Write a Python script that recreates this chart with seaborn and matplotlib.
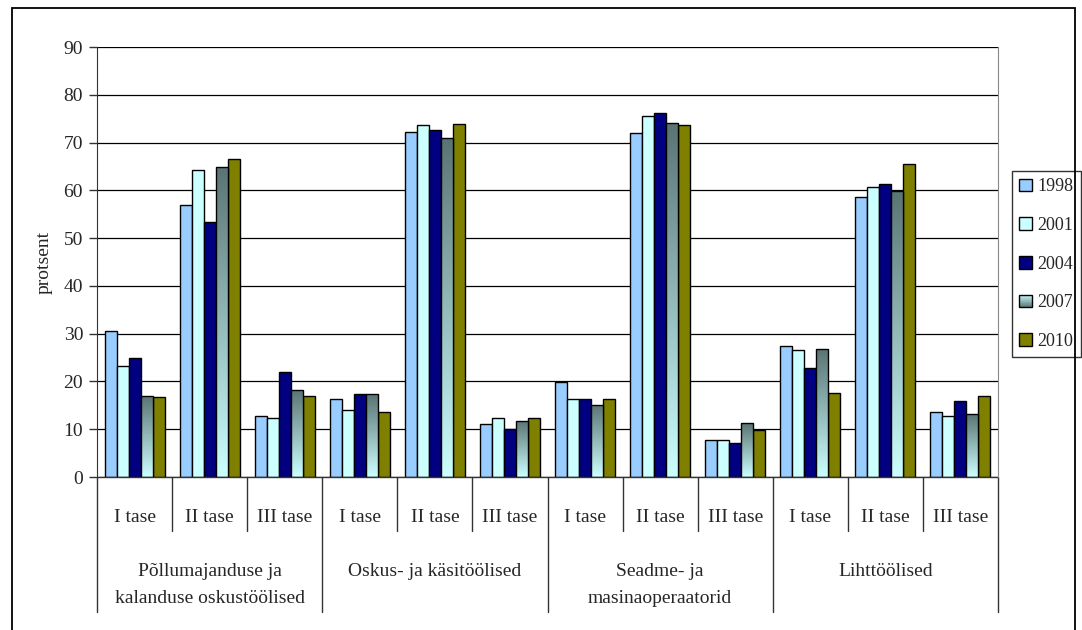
import numpy as np
import pandas as pd
import seaborn as sns
import matplotlib.pyplot as plt
from matplotlib.patches import Rectangle
from matplotlib.legend_handler import HandlerBase
from matplotlib.colors import LinearSegmentedColormap
import matplotlib.transforms as mtransforms

# andmed
groups = ["Põllumajanduse ja\nkalanduse oskustöölised", "Oskus- ja käsitöölised",
          "Seadme- ja\nmasinaoperaatorid", "Lihttöölised"]
levels = ["I tase", "II tase", "III tase"]
years = ["1998", "2001", "2004", "2007", "2010"]

v1998 = [30.5, 57.0, 12.7, 16.3, 72.2, 11.1, 19.9, 72.0, 7.8, 27.5, 58.6, 13.7]
v2001 = [23.3, 64.2, 12.3, 14.0, 73.6, 12.4, 16.3, 75.5, 7.8, 26.5, 60.8, 12.8]
v2004 = [25.0, 53.3, 22.0, 17.3, 72.6, 10.1, 16.3, 76.2, 7.2, 22.9, 61.3, 16.0]
v2007 = [17.0, 64.9, 18.3, 17.3, 71.0, 11.8, 15.1, 74.0, 11.2, 26.8, 59.9, 13.1]
v2010 = [16.7, 66.5, 17.0, 13.7, 73.9, 12.4, 16.3, 73.6, 9.8, 17.6, 65.5, 17.0]

colors = ["#99CCFF", "#CCFFFF", "#000080", "#5F7F7F", "#808000"]
grad_top = "#5A7373"
grad_bottom = "#CCFFFF"

cats = [f"{g}|{l}" for g in range(len(groups)) for l in levels]
rows = []
for yr, vals in zip(years, [v1998, v2001, v2004, v2007, v2010]):
    for c, v in zip(cats, vals):
        rows.append([c, yr, v])
df = pd.DataFrame(rows, columns=["kat", "aasta", "protsent"])

sns.set_style("white")
plt.rcParams["font.family"] = ["Liberation Serif", "DejaVu Serif"]

fig = plt.figure(figsize=(10.82, 6.30), dpi=100)
ax = fig.add_axes([97 / 1082, 1 - 477 / 630, (998 - 97) / 1082, 430 / 630])

sns.barplot(data=df, x="kat", y="protsent", hue="aasta", order=cats, hue_order=years,
            palette=colors, saturation=1, width=0.8, edgecolor="black", linewidth=1,
            legend=False, ax=ax)

# 2007 tulbad gradiendiga
cmap = LinearSegmentedColormap.from_list("g", [grad_bottom, grad_top])
grad = np.linspace(0, 1, 256).reshape(-1, 1)
for bar in ax.containers[3]:
    x0, y0 = bar.get_x(), bar.get_y()
    w, h = bar.get_width(), bar.get_height()
    bar.set_facecolor("none")
    bar.set_zorder(3)
    im = ax.imshow(grad, cmap=cmap, origin="lower", aspect="auto",
                   extent=[x0, x0 + w, y0, y0 + h], zorder=2)
    im.set_clip_path(bar)

ax.set_xlim(-0.5, len(cats) - 0.5)
ax.set_ylim(0, 90)
ax.set_yticks(range(0, 91, 10))
ax.yaxis.grid(True, color="black", linewidth=0.9)
ax.set_axisbelow(True)

for s in ["top", "bottom"]:
    ax.spines[s].set_visible(False)
ax.spines["left"].set_color("#333333")
ax.spines["right"].set_color("#888888")

ax.tick_params(axis="y", left=True, length=6, width=1, color="#333333", labelsize=14, pad=4)
ax.tick_params(axis="x", bottom=False, length=0, labelsize=14, pad=23)
ax.set_xticks(range(len(cats)))
ax.set_xticklabels(levels * len(groups))
ax.set_xlabel("")
ax.set_ylabel("protsent", fontsize=14, labelpad=8)

# x-telje mitmetasemelised jaotusjooned
trans = mtransforms.blended_transform_factory(ax.transData, ax.transAxes)
ax.plot([-0.5, len(cats) - 0.5], [0, 0], transform=trans, color="#333333", lw=1, clip_on=False)
for i in range(len(cats) + 1):
    bottom = -0.315 if i % 3 == 0 else -0.126
    ax.plot([i - 0.5, i - 0.5], [0, bottom], transform=trans, color="#333333", lw=1, clip_on=False)
for g, name in enumerate(groups):
    ax.text(g * 3 + 1, -0.2, name, transform=trans, ha="center", va="top",
            fontsize=14, linespacing=1.75)


class GradHandler(HandlerBase):
    def create_artists(self, legend, orig, xd, yd, width, height, fontsize, trans):
        arts = []
        n = 20
        for k in range(n):
            c = cmap(1 - (k + 0.5) / n)
            arts.append(Rectangle((-xd, -yd + height * k / n), width, height / n,
                                  facecolor=c, edgecolor="none", transform=trans))
        arts.append(Rectangle((-xd, -yd), width, height, facecolor="none",
                              edgecolor="black", lw=1, transform=trans))
        return arts


handles = [Rectangle((0, 0), 1, 1, facecolor=c, edgecolor="black", lw=1) for c in colors]
leg = ax.legend(handles, years, loc="upper left", bbox_to_anchor=(1012 / 1082, 1 - 171 / 630),
                bbox_transform=fig.transFigure, frameon=True, fancybox=False, fontsize=13,
                handlelength=0.7, handleheight=0.7, handletextpad=0.3, labelspacing=1.2,
                borderpad=0.4, borderaxespad=0, handler_map={handles[3]: GradHandler()})
leg.get_frame().set_edgecolor("black")
leg.get_frame().set_linewidth(1)

fig.patches.append(Rectangle((12 / 1082, -0.01), (1075 - 12) / 1082, 1 - 8 / 630 + 0.01,
                             transform=fig.transFigure, fill=False, edgecolor="black", lw=1.3))

plt.savefig("out.png", dpi=100)
